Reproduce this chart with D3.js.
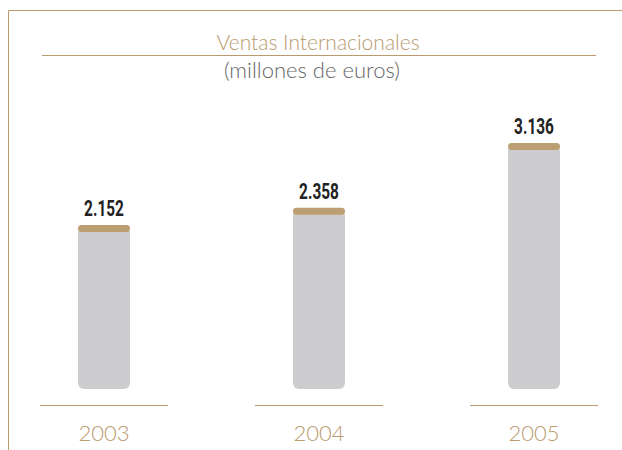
<!DOCTYPE html>
<html><head><meta charset="utf-8">
<script src="https://cdn.jsdelivr.net/npm/d3@7"></script>
<style>
body{margin:0;background:#fff;}
svg{display:block;}
</style></head>
<body>
<svg id="chart" width="622" height="450"></svg>
<script>
const years = ["2003", "2004", "2005"];
const values = [2152, 2358, 3136];
const valueLabels = ["2.152", "2.358", "3.136"];
const title = "Ventas Internacionales";
const subtitle = "(millones de euros)";

const tan = "#b99b6f";
const svg = d3.select("#chart");

// frame
svg.append("path").attr("d", "M8.5,450 L8.5,10.5 L622,10.5")
  .attr("fill", "none").attr("stroke", tan).attr("stroke-width", 1);

// title
svg.append("text").attr("x", 318).attr("y", 50).attr("text-anchor", "middle")
  .attr("font-family", "Lato, 'Open Sans', sans-serif").attr("font-weight", 300)
  .attr("font-size", 21).attr("fill", tan).text(title);
svg.append("line").attr("x1", 42).attr("x2", 596).attr("y1", 55.5).attr("y2", 55.5)
  .attr("stroke", tan).attr("stroke-width", 1.2);
svg.append("text").attr("x", 312).attr("y", 78).attr("text-anchor", "middle")
  .attr("font-family", "Lato, 'Open Sans', sans-serif").attr("font-weight", 300)
  .attr("font-size", 22).attr("fill", "#666").text(subtitle);

const x = d3.scaleBand().domain(years).range([-3.5, 641.5]).paddingInner(0).paddingOuter(0);
const y = d3.scaleLinear().domain([0, 3136]).range([404.3, 143]);
const baseY = 389;
const barW = 52;

const g = svg.append("g");
years.forEach((yr, i) => {
  const cx = x(yr) + x.bandwidth() / 2;
  const top = y(values[i]);
  // gray bar
  g.append("rect").attr("x", cx - barW / 2).attr("y", top + 2).attr("width", barW)
    .attr("height", baseY - top - 2).attr("rx", 6).attr("fill", "#cdcdcf");
  // cap
  g.append("rect").attr("x", cx - barW / 2).attr("y", top).attr("width", barW)
    .attr("height", 7).attr("rx", 3.5).attr("fill", "#bb9e72");
  // value label (condensed)
  g.append("text").attr("transform", `translate(${cx},${top - 9}) scale(0.7,1)`)
    .attr("text-anchor", "middle")
    .attr("font-family", "Roboto, 'DejaVu Sans', sans-serif")
    .attr("font-weight", "bold").attr("font-size", 22).attr("fill", "#222")
    .text(valueLabels[i]);
  // axis line
  g.append("line").attr("x1", cx - 64).attr("x2", cx + 64).attr("y1", 405.5).attr("y2", 405.5)
    .attr("stroke", tan).attr("stroke-width", 1.2);
  // year label
  g.append("text").attr("x", cx).attr("y", 441).attr("text-anchor", "middle")
    .attr("font-family", "Lato, 'Open Sans', sans-serif").attr("font-weight", 300)
    .attr("font-size", 22).attr("fill", tan).text(yr);
});
</script>
</body></html>
